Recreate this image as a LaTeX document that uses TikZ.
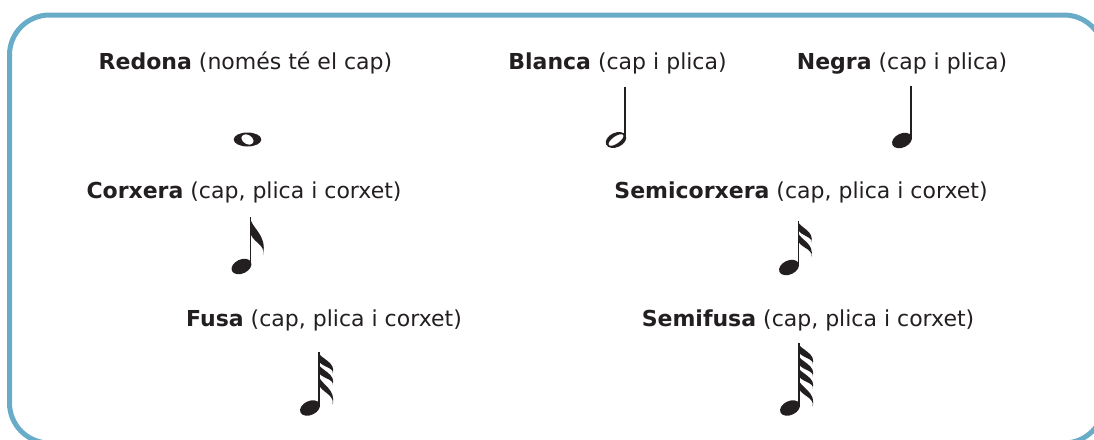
\documentclass[tikz,border=0pt]{standalone}
\usepackage{fontspec}
\setmainfont{DejaVu Sans}
\definecolor{framecol}{RGB}{104,172,200}
\definecolor{inkcol}{RGB}{35,31,32}
\newcommand\noteflag[5]{% stem-top x, y, width, height, thickness
  \fill[inkcol] (#1,#2) .. controls ({#1+1},{#2+0.3*#4}) and ({#1+#3+4.5},{#2+0.45*#4}) .. ({#1+#3},{#2+#4})
    .. controls ({#1+#3+3},{#2+0.45*#4+0.7*#5}) and ({#1+1},{#2+0.3*#4+#5}) .. (#1,{#2+#5}) -- cycle;}
\newcommand\notestem[3]{% x, top, bottom
  \draw[stemline] (#1,#2) -- (#1,#3);}
\newcommand\blackhead[2]{% center
  \fill[inkcol, rotate around={25:(#1,#2)}] (#1,#2) ellipse (10.5pt and 7pt);}
\tikzset{
  label/.style={font=\fontsize{22}{26}\selectfont, text=inkcol, anchor=base, inner sep=0pt},
  stemline/.style={draw=inkcol, line width=1.8pt},
  framestyle/.style={draw=framecol, line width=5pt, rounded corners=40pt},
}
\begin{document}
\begin{tikzpicture}[x=1pt,y=-1pt]
\useasboundingbox (0,0) rectangle (1094,439);
\begin{scope}
\clip (0,0) rectangle (1094,439);
\draw[framestyle] (1104,100) -- (1104,15) -- (9.5,15) -- (9.5,443) -- (100,443);
\draw[framestyle] (1104,380) -- (1104,443) -- (1000,443);
\end{scope}

% labels
\node[label] (redona) at (245.5,69) {\textbf{Redona} (només té el cap)};
\node[label] (blanca) at (617.5,69) {\textbf{Blanca} (cap i plica)};
\node[label] (negra) at (902,69) {\textbf{Negra} (cap i plica)};
\node[label] (corxera) at (244,198) {\textbf{Corxera} (cap, plica i corxet)};
\node[label] (semicorxera) at (801,198) {\textbf{Semicorxera} (cap, plica i corxet)};
\node[label] (fusa) at (324,326) {\textbf{Fusa} (cap, plica i corxet)};
\node[label] (semifusa) at (808,326) {\textbf{Semifusa} (cap, plica i corxet)};

% Redona (whole note)
\fill[inkcol, even odd rule] (247.5,139.5) ellipse (13.8pt and 7pt)
  [rotate around={-30:(247.5,139.5)}] (247.5,139.5) ellipse (6.5pt and 4.6pt);

% Blanca (half note)
\notestem{625}{87}{139}
\fill[inkcol, even odd rule, rotate around={25:(616,140)}] (616,140) ellipse (10.8pt and 7.2pt)
  [rotate around={10:(616,140)}] (616,140) ellipse (8.8pt and 3.6pt);

% Negra
\notestem{911}{86}{139}
\blackhead{902}{140.5}

% Corxera
\notestem{250.5}{217}{265}
\blackhead{241.5}{266.5}
\noteflag{250}{217}{13}{38}{14}

% Semicorxera
\notestem{798.5}{221}{266}
\blackhead{789}{267.5}
\noteflag{798}{221}{13}{22}{8}
\noteflag{798}{232}{13}{25}{8}

% Fusa
\notestem{319}{352}{406}
\blackhead{310}{408}
\noteflag{318.5}{352}{14}{22}{8}
\noteflag{318.5}{363.5}{14}{22}{8}
\noteflag{318.5}{375}{14}{30}{8}

% Semifusa
\notestem{799}{343}{406}
\blackhead{790}{408}
\noteflag{798.5}{343}{14}{22}{8}
\noteflag{798.5}{355}{14}{22}{8}
\noteflag{798.5}{367}{14}{22}{8}
\noteflag{798.5}{379}{14}{28}{8}
\end{tikzpicture}
\end{document}
